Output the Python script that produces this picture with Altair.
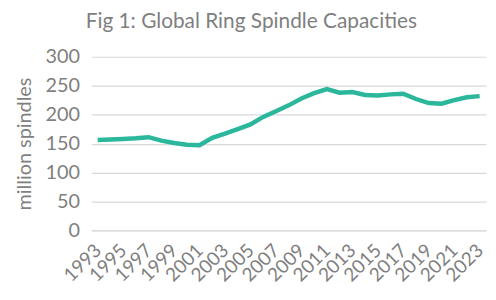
import altair as alt
import pandas as pd

years = list(range(1993, 2024))
capacity = [156, 157, 158, 159, 161, 155, 151, 148, 147, 160, 167, 175, 183, 196, 206,
            216, 228, 237, 244, 238, 239, 234, 233, 235, 236, 227, 220, 219, 225, 230, 232]
tick_years = list(range(1993, 2024, 2))
y_ticks = [0, 50, 100, 150, 200, 250, 300]

df = pd.DataFrame({"year": years, "capacity": capacity})

grey = "#7f7f7f"
font = "Lato"

chart = alt.Chart(df).mark_line(color="#2bb79b", strokeWidth=4.5).encode(
    x=alt.X("year:O",
            scale=alt.Scale(type="point", padding=0.5),
            axis=alt.Axis(values=tick_years, title=None, labelAngle=-45,
                          labelFontSize=19, labelColor=grey, labelFont=font,
                          labelPadding=17, ticks=False, domain=True,
                          domainColor="#d9d9d9", grid=False, labelAlign="right",
                          labelBaseline="middle", labelOverlap=False)),
    y=alt.Y("capacity:Q",
            scale=alt.Scale(domain=[0, 300], nice=False),
            axis=alt.Axis(values=y_ticks, title="million spindles",
                          titleFontSize=20, titleFont=font, titleColor=grey,
                          titleFontWeight="normal", titlePadding=11,
                          labelFontSize=20, labelFont=font, labelColor=grey,
                          labelPadding=12, ticks=False, domain=False,
                          gridColor="#d9d9d9", gridWidth=1.2)),
).properties(
    width=398,
    height=175,
    title=alt.TitleParams("Fig 1: Global Ring Spindle Capacities", fontSize=21,
                          font=font, color=grey, fontWeight="normal",
                          anchor="middle", frame="bounds", offset=15),
    autosize=alt.AutoSizeParams(type="none"),
    padding={"left": 84, "top": 48, "right": 2, "bottom": 61},
).configure_view(stroke=None)

chart.save("out.html", embed_options={"renderer": "svg", "actions": False})
